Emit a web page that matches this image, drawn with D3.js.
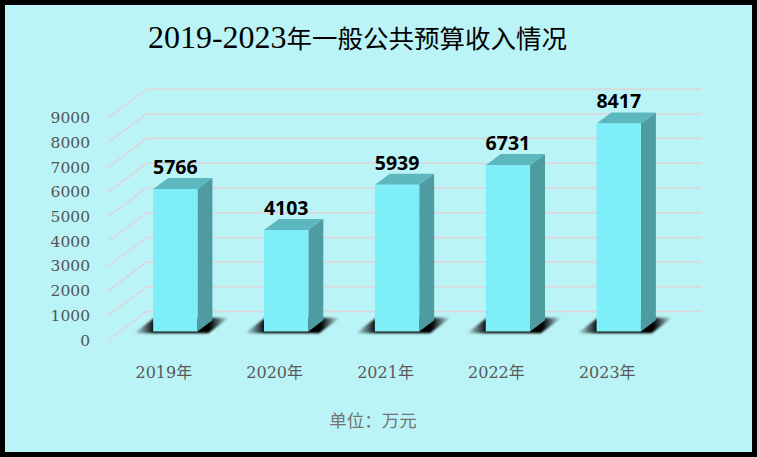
<!DOCTYPE html>
<html>
  <head>
    <meta charset="utf-8" />
    <script src="https://d3js.org/d3.v7.min.js"></script>
  </head>
  <style>
    body { margin: 0; }
    svg { display: block; }
  </style>
  <body>
    <div id="viz"><svg></svg></div>
    <script>
      // 数据
      var categories = ["2019年", "2020年", "2021年", "2022年", "2023年"];
      var values = [5766, 4103, 5939, 6731, 8417];
      var tickValues = [0, 1000, 2000, 3000, 4000, 5000, 6000, 7000, 8000, 9000];
      var titleParts = [["2019-2023", "num"], ["年一般公共预算收入情况", "cjk"]];
      var unitLabel = "单位：万元";

      var W = 757, H = 457;
      // 3D 深度偏移 (后墙 -> 前沿)
      var DX = 38.3, DY = 28.5;
      var zFront = 0.3, zBack = 0.69;

      var svg = d3.select("svg").attr("width", W).attr("height", H);

      svg.append("rect")
        .attr("x", 2.5).attr("y", 2.5)
        .attr("width", W - 5).attr("height", H - 5)
        .attr("fill", "#bbf4f6")
        .attr("stroke", "#000")
        .attr("stroke-width", 5);

      var xScale = d3.scaleBand()
        .domain(categories)
        .range([146.7, 701])
        .paddingInner(0.6)
        .paddingOuter(0.3);

      var yScale = d3.scaleLinear()
        .domain([0, 9000])
        .range([311.5, 89.2]);

      function proj(x, v, z) {
        return [x - (1 - z) * DX, yScale(v) + (1 - z) * DY];
      }
      function pts(list) {
        return list.map(function (p) { return p.join(","); }).join(" ");
      }

      var defs = svg.append("defs");
      var grad = defs.append("linearGradient").attr("id", "shadowGrad");
      [[0, 0], [0.22, 1], [0.8, 1], [1, 0]].forEach(function (s) {
        grad.append("stop").attr("offset", s[0]).attr("stop-color", "#000").attr("stop-opacity", s[1]);
      });
      defs.append("filter").attr("id", "blur")
        .attr("x", "-20%").attr("y", "-50%").attr("width", "140%").attr("height", "200%")
        .append("feGaussianBlur").attr("stdDeviation", 0.9);

      // 网格线
      var grid = svg.append("g").attr("stroke", "#dfd4d8").attr("stroke-width", 1.5).attr("fill", "none");
      tickValues.forEach(function (t) {
        var back = proj(xScale.range()[0], t, 1);
        var front = proj(xScale.range()[0], t, 0);
        var right = proj(xScale.range()[1], t, 1);
        grid.append("polyline").attr("points", pts([front, back, right]));
      });

      // y 轴刻度
      svg.append("g").selectAll("text")
        .data(tickValues)
        .enter()
        .append("text")
        .attr("x", 90)
        .attr("y", function (d) { return proj(0, d, 0)[1]; })
        .attr("dy", "0.36em")
        .attr("text-anchor", "end")
        .attr("font-family", "DejaVu Serif")
        .attr("font-size", 15.5)
        .attr("fill", "#555")
        .text(function (d) { return d; });

      // 阴影
      svg.append("g").selectAll("polygon")
        .data(values)
        .enter()
        .append("polygon")
        .attr("points", function (d, i) {
          var x0 = xScale(categories[i]) - 17, x1 = xScale(categories[i]) + xScale.bandwidth() + 13;
          return pts([proj(x0, 0, 0.24), proj(x1, 0, 0.24), proj(x1, 0, 0.78), proj(x0, 0, 0.78)]);
        })
        .attr("fill", "url(#shadowGrad)")
        .attr("filter", "url(#blur)");

      // 柱子
      var bars = svg.append("g").selectAll("g")
        .data(values)
        .enter()
        .append("g");

      bars.append("polygon")
        .attr("points", function (d, i) {
          var x1 = xScale(categories[i]) + xScale.bandwidth();
          return pts([proj(x1, d, zFront), proj(x1, d, zBack), proj(x1, 0, zBack), proj(x1, 0, zFront)]);
        })
        .attr("fill", "#4e9ca1");

      bars.append("polygon")
        .attr("points", function (d, i) {
          var x0 = xScale(categories[i]), x1 = x0 + xScale.bandwidth();
          return pts([proj(x0, d, zFront), proj(x1, d, zFront), proj(x1, d, zBack), proj(x0, d, zBack)]);
        })
        .attr("fill", "#5cb7bf");

      bars.append("polygon")
        .attr("points", function (d, i) {
          var x0 = xScale(categories[i]), x1 = x0 + xScale.bandwidth();
          return pts([proj(x0, d, zFront), proj(x1, d, zFront), proj(x1, 0, zFront), proj(x0, 0, zFront)]);
        })
        .attr("fill", "#7eeff9");

      // 数值标签
      svg.append("g").selectAll("text")
        .data(values)
        .enter()
        .append("text")
        .attr("x", function (d, i) {
          return proj(xScale(categories[i]) + xScale.bandwidth() / 2, d, zFront)[0];
        })
        .attr("y", function (d) { return proj(0, d, zBack)[1] - 4; })
        .attr("text-anchor", "middle")
        .attr("font-family", "Open Sans")
        .attr("font-weight", "bold")
        .attr("font-size", 19.5)
        .attr("fill", "#000")
        .text(function (d) { return d; });

      // 分类标签
      svg.append("g").selectAll("text")
        .data(categories)
        .enter()
        .append("text")
        .attr("x", function (d) { return proj(xScale(d) + xScale.bandwidth() / 2, 0, 0)[0]; })
        .attr("y", 378.3)
        .attr("text-anchor", "middle")
        .attr("font-family", "DejaVu Serif, Noto Sans CJK SC")
        .attr("font-size", 16)
        .attr("fill", "#595959")
        .text(function (d) { return d; });

      // 标题
      var title = svg.append("text")
        .attr("x", 357.5)
        .attr("y", 48.3)
        .attr("text-anchor", "middle")
        .attr("fill", "#000");
      titleParts.forEach(function (p) {
        title.append("tspan")
          .attr("font-family", p[1] == "num" ? "Liberation Serif" : "Noto Sans CJK SC")
          .attr("font-size", p[1] == "num" ? 32 : 25.5)
          .text(p[0]);
      });

      // 单位
      svg.append("text")
        .attr("x", 373)
        .attr("y", 426.5)
        .attr("text-anchor", "middle")
        .attr("font-family", "Noto Sans CJK SC")
        .attr("font-size", 17.5)
        .attr("fill", "#737373")
        .text(unitLabel);
    </script>
  </body>
</html>
